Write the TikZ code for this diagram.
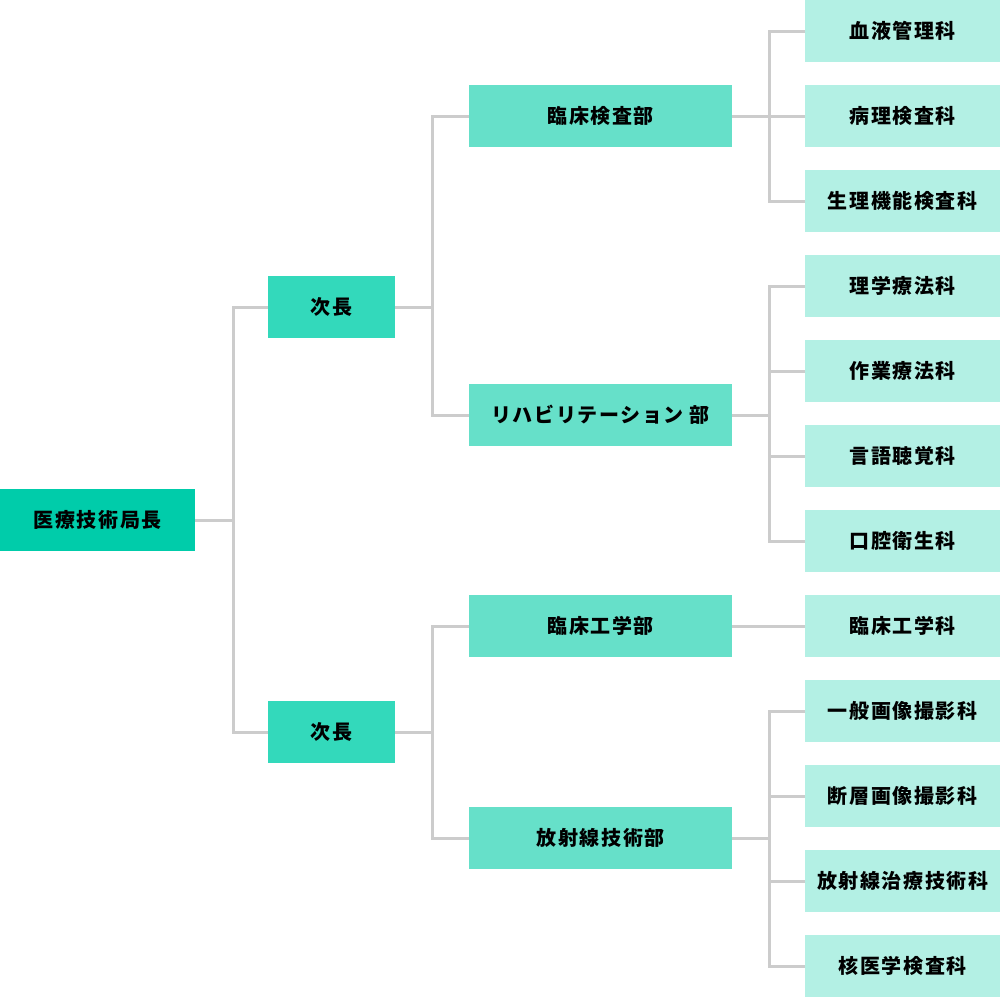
\documentclass[tikz,border=0pt]{standalone}
\usepackage{fontspec}
\newfontfamily\cjk[LetterSpace=8]{Noto Sans CJK JP}
\begin{document}
\begin{tikzpicture}[x=1pt,y=-1pt,
  box/.style={rectangle, inner sep=0pt, anchor=north west, font=\cjk\bfseries\fontsize{20}{24}\selectfont, text=black},
  lv0/.style={box, fill=c0, minimum width=195pt, minimum height=62pt},
  lv1/.style={box, fill=c1, minimum width=127pt, minimum height=62pt},
  lv2/.style={box, fill=c2, minimum width=263pt, minimum height=62pt},
  lv3/.style={box, fill=c3, minimum width=195pt, minimum height=62pt},
  conn/.style={draw=lg, line width=3pt, line join=miter}]
\definecolor{c0}{RGB}{0,204,170}
\definecolor{c1}{RGB}{51,217,187}
\definecolor{c2}{RGB}{102,224,201}
\definecolor{c3}{RGB}{179,240,228}
\definecolor{lg}{RGB}{204,204,204}
\useasboundingbox (0,0) rectangle (1000,997);
\node[lv0] (root) at (0,489) {医療技術局長};
\node[lv1] (v1) at (268,276) {次長};
\node[lv1] (v2) at (268,701) {次長};
\node[lv2] (d1) at (469,85) {臨床検査部};
\node[lv2] (d2) at (469,384) {リハビリテーション 部};
\node[lv2] (d3) at (469,595) {臨床工学部};
\node[lv2] (d4) at (469,807) {放射線技術部};
\node[lv3] (k1) at (805,0) {血液管理科};
\node[lv3] (k2) at (805,85) {病理検査科};
\node[lv3] (k3) at (805,170) {生理機能検査科};
\node[lv3] (k4) at (805,255) {理学療法科};
\node[lv3] (k5) at (805,340) {作業療法科};
\node[lv3] (k6) at (805,425) {言語聴覚科};
\node[lv3] (k7) at (805,510) {口腔衛生科};
\node[lv3] (k8) at (805,595) {臨床工学科};
\node[lv3] (k9) at (805,680) {一般画像撮影科};
\node[lv3] (k10) at (805,765) {断層画像撮影科};
\node[lv3] (k11) at (805,850) {放射線治療技術科};
\node[lv3] (k12) at (805,935) {核医学検査科};
\foreach \c in {v1,v2} \draw[conn] (\c.west) -- ++(-35,0) |- (root.east);
\foreach \c in {d1,d2} \draw[conn] (\c.west) -- ++(-37,0) |- (v1.east);
\foreach \c in {d3,d4} \draw[conn] (\c.west) -- ++(-37,0) |- (v2.east);
\foreach \c in {k1,k2,k3} \draw[conn] (\c.west) -- ++(-36,0) |- (d1.east);
\foreach \c in {k4,k5,k6,k7} \draw[conn] (\c.west) -- ++(-36,0) |- (d2.east);
\foreach \c in {k8} \draw[conn] (\c.west) -- ++(-36,0) |- (d3.east);
\foreach \c in {k9,k10,k11,k12} \draw[conn] (\c.west) -- ++(-36,0) |- (d4.east);
\end{tikzpicture}
\end{document}
